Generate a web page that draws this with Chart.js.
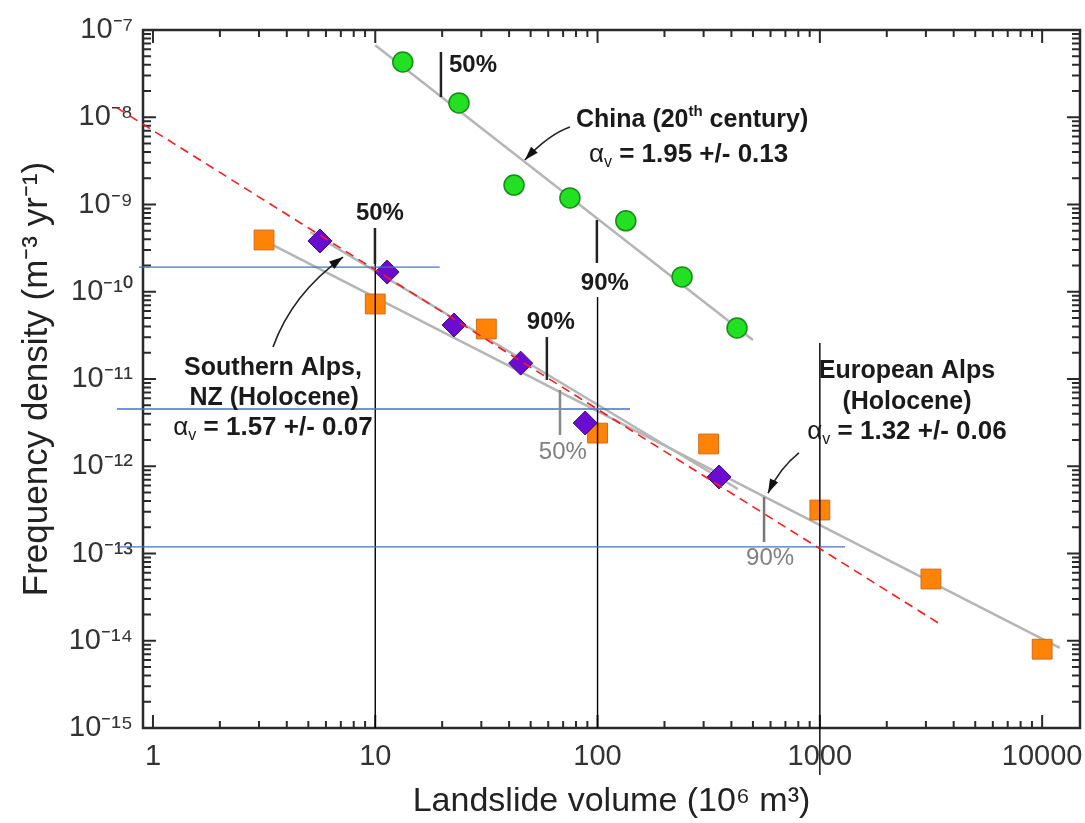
<!DOCTYPE html>
<html>
<head>
<meta charset="utf-8">
<script src="https://cdn.jsdelivr.net/npm/chart.js@4.4.1/dist/chart.umd.min.js"></script>
<style>
  html, body { margin: 0; padding: 0; background: #fff; }
  #wrap { width: 1085px; height: 823px; }
</style>
</head>
<body>
<div id="wrap"><canvas id="chart" width="1085" height="823"></canvas></div>
<script>
// values: volume in 10^6 m^3, frequency density in m^-3 yr^-1
const chinaVol  = [13.3, 23.8, 42.1, 75.1, 134, 240, 424];
const chinaFreq = [4.3e-8, 1.46e-8, 1.67e-9, 1.19e-9, 6.5e-10, 1.48e-10, 3.84e-11];

const euroVol  = [3.16, 10, 31.6, 100, 316, 1000, 3160, 10000];
const euroFreq = [3.92e-10, 7.24e-11, 3.74e-11, 2.40e-12, 1.80e-12, 3.15e-13, 5.1e-14, 8.0e-15];

const nzVol  = [5.64, 11.3, 22.6, 45.1, 88, 352];
const nzFreq = [3.82e-10, 1.68e-10, 4.16e-11, 1.52e-11, 3.13e-12, 7.53e-13];

// fitted power laws (grey lines), end points
const chinaFitVol = [10, 500];
const chinaFitFreq = [6.7e-8, 2.8e-11];
const nzFitVol = [5.09, 428];
const nzFitFreq = [4.84e-10, 5.48e-13];
const euroFitVol = [3.2, 12000];
const euroFitFreq = [3.8e-10, 8.3e-15];

// red dashed reference line
const redVol = [0.689, 3580];
const redFreq = [1.28e-8, 1.48e-14];

// blue horizontal guides
const blueFreq = [1.92e-10, 4.53e-12, 1.19e-13];
const blueFrom = [0.865, 0.689, 0.689];
const blueTo   = [19.5, 140, 1297];

// black vertical guides
const blackVol = [10, 100, 1000];
const blackTop = [2.19e-10, 8.7e-11, 2.59e-11];
const blackBottom = [1e-15, 1e-15, 2.9e-16];

const xTicks = [1, 10, 100, 1000, 10000];
const yTicks = [1e-15, 1e-14, 1e-13, 1e-12, 1e-11, 1e-10, 1e-9, 1e-8, 1e-7];

const FONT = '"Liberation Sans", Arial, sans-serif';
const SUP = {'-': '\u207B', '0': '\u2070', '1': '\u00B9', '2': '\u00B2', '3': '\u00B3',
  '4': '\u2074', '5': '\u2075', '6': '\u2076', '7': '\u2077', '8': '\u2078', '9': '\u2079'};
const sup = s => String(s).split('').map(c => SUP[c] || c).join('');

const pts = (xs, ys) => xs.map((v, i) => ({x: v, y: ys[i]}));

// annotation texts, placed in log10 units of the axes
const alpha = (rest) => [{t: '\u03B1'}, {t: 'v', sub: true}, {t: rest, b: true}];
const notes = [
  {segs: [{t: '50%', b: true}], lx: 1.3315, ly: -7.401, align: 'left', size: 24},
  {segs: [{t: 'China (20', b: true}, {t: 'th', b: true, sup: true}, {t: ' century)', b: true}], lx: 1.903, ly: -8.03, align: 'left', size: 25},
  {segs: alpha(' = 1.95 +/- 0.13'), lx: 1.961, ly: -8.433, align: 'left', size: 26},
  {segs: [{t: '50%', b: true}], lx: 1.021, ly: -9.097, align: 'center', size: 24},
  {segs: [{t: '90%', b: true}], lx: 2.033, ly: -9.900, align: 'center', size: 24},
  {segs: [{t: '90%', b: true}], lx: 1.790, ly: -10.347, align: 'center', size: 24},
  {segs: [{t: 'Southern Alps,', b: true}], lx: 0.540, ly: -10.874, align: 'center', size: 25},
  {segs: [{t: 'NZ (Holocene)', b: true}], lx: 0.545, ly: -11.218, align: 'center', size: 25},
  {segs: alpha(' = 1.57 +/- 0.07'), lx: 0.540, ly: -11.562, align: 'center', size: 26},
  {segs: [{t: '50%'}], lx: 1.844, ly: -11.837, align: 'center', size: 24, color: '#808080'},
  {segs: [{t: 'European Alps', b: true}], lx: 3.392, ly: -10.908, align: 'center', size: 25},
  {segs: [{t: '(Holocene)', b: true}], lx: 3.392, ly: -11.264, align: 'center', size: 25},
  {segs: alpha(' = 1.32 +/- 0.06'), lx: 3.392, ly: -11.607, align: 'center', size: 26},
  {segs: [{t: '90%'}], lx: 2.776, ly: -13.052, align: 'center', size: 24, color: '#808080'}
];
// short percentile markers on the fits
const marks = [
  {lx: 1.2955, ly1: -7.252, ly2: -7.768, color: '#222'},
  {lx: 0.9987, ly1: -9.269, ly2: -9.682, color: '#222'},
  {lx: 1.997, ly1: -9.178, ly2: -9.670, color: '#222'},
  {lx: 1.772, ly1: -10.519, ly2: -11.011, color: '#222'},
  {lx: 1.831, ly1: -11.126, ly2: -11.642, color: '#888'},
  {lx: 2.749, ly1: -12.352, ly2: -12.868, color: '#777'}
];
const arrows = [
  {from: [1.876, -8.112], ctrl: [1.779, -8.198], to: [1.673, -8.490]},
  {from: [0.540, -10.633], ctrl: [0.625, -10.026], to: [0.855, -9.602]},
  {from: [2.906, -11.848], ctrl: [2.8205, -12.020], to: [2.767, -12.307]}
];

function drawRich(ctx, segs, px, py, align, size, color) {
  let w = 0;
  const parts = segs.map(s => {
    const fs = (s.sub || s.sup) ? Math.round(size * 0.6) : size;
    const font = (s.b ? 'bold ' : '') + fs + 'px ' + FONT;
    ctx.font = font;
    const sw = ctx.measureText(s.t).width;
    w += sw;
    return {s, font, sw, dy: s.sup ? -size * 0.32 : (s.sub ? size * 0.3 : 0)};
  });
  let cx = align === 'center' ? px - w / 2 : (align === 'right' ? px - w : px);
  ctx.textAlign = 'left';
  ctx.textBaseline = 'middle';
  ctx.fillStyle = color;
  parts.forEach(p => {
    ctx.font = p.font;
    ctx.fillText(p.s.t, cx, py + p.dy);
    cx += p.sw;
  });
}

const frame = {
  id: 'frame',
  beforeDatasetsDraw(chart) {
    const {ctx, chartArea: a, scales: {x, y}} = chart;
    ctx.save();
    ctx.strokeStyle = '#2a2a2a';
    ctx.lineWidth = 2;
    // inward ticks on all four sides
    for (let d = -1; d <= 4; d++) {
      for (let m = 1; m <= 9; m++) {
        const v = m * Math.pow(10, d);
        if (v < x.min || v > x.max) continue;
        const p = x.getPixelForValue(v);
        const len = m === 1 ? 13 : 7;
        ctx.beginPath();
        ctx.moveTo(p, a.bottom); ctx.lineTo(p, a.bottom - len);
        ctx.moveTo(p, a.top); ctx.lineTo(p, a.top + len);
        ctx.stroke();
      }
    }
    for (let d = -15; d <= -7; d++) {
      for (let m = 1; m <= 9; m++) {
        const v = m * Math.pow(10, d);
        if (v < y.min * 0.999 || v > y.max * 1.001) continue;
        const p = y.getPixelForValue(v);
        const len = m === 1 ? 13 : 8;
        ctx.beginPath();
        ctx.moveTo(a.left, p); ctx.lineTo(a.left + len, p);
        ctx.moveTo(a.right, p); ctx.lineTo(a.right - len, p);
        ctx.stroke();
      }
    }
    ctx.lineWidth = 2.5;
    ctx.strokeRect(a.left, a.top, a.right - a.left, a.bottom - a.top);
    ctx.restore();
  }
};

const annotate = {
  id: 'annotate',
  afterDatasetsDraw(chart) {
    const {ctx, scales: {x, y}} = chart;
    const X = lx => x.getPixelForValue(Math.pow(10, lx));
    const Y = ly => y.getPixelForValue(Math.pow(10, ly));
    ctx.save();
    marks.forEach(m => {
      ctx.strokeStyle = m.color;
      ctx.lineWidth = 2.5;
      ctx.beginPath();
      ctx.moveTo(X(m.lx), Y(m.ly1));
      ctx.lineTo(X(m.lx), Y(m.ly2));
      ctx.stroke();
    });
    arrows.forEach(ar => {
      const x0 = X(ar.from[0]), y0 = Y(ar.from[1]);
      const cx = X(ar.ctrl[0]), cy = Y(ar.ctrl[1]);
      const x1 = X(ar.to[0]), y1 = Y(ar.to[1]);
      ctx.strokeStyle = '#222';
      ctx.lineWidth = 1.6;
      ctx.beginPath();
      ctx.moveTo(x0, y0);
      ctx.quadraticCurveTo(cx, cy, x1, y1);
      ctx.stroke();
      const ang = Math.atan2(y1 - cy, x1 - cx);
      const L = 14, W = 4.5;
      ctx.fillStyle = '#111';
      ctx.beginPath();
      ctx.moveTo(x1, y1);
      ctx.lineTo(x1 - L * Math.cos(ang) + W * Math.sin(ang), y1 - L * Math.sin(ang) - W * Math.cos(ang));
      ctx.lineTo(x1 - L * Math.cos(ang) - W * Math.sin(ang), y1 - L * Math.sin(ang) + W * Math.cos(ang));
      ctx.closePath();
      ctx.fill();
    });
    notes.forEach(n => drawRich(ctx, n.segs, X(n.lx), Y(n.ly), n.align, n.size, n.color || '#1a1a1a'));
    ctx.restore();
  }
};

const guide = (data, color, width, dash, order) => ({
  type: 'line', data, borderColor: color, borderWidth: width, borderDash: dash || [],
  pointRadius: 0, fill: false, clip: false, order
});

const datasets = [
  guide(pts(redVol, redFreq), '#ff1a1a', 1.6, [9, 6], 0),
  ...blueFreq.map((f, i) => guide([{x: blueFrom[i], y: f}, {x: blueTo[i], y: f}], '#4472c4', 1.3, null, 1)),
  ...blackVol.map((v, i) => guide([{x: v, y: blackTop[i]}, {x: v, y: blackBottom[i]}], '#000', 1.4, null, 1)),
  {
    type: 'scatter', label: 'China', data: pts(chinaVol, chinaFreq), order: 2,
    pointStyle: 'circle', pointRadius: 10, backgroundColor: '#22e022', borderColor: '#178a17', borderWidth: 1.5
  },
  {
    type: 'scatter', label: 'Southern Alps', data: pts(nzVol, nzFreq), order: 2,
    pointStyle: 'rectRot', pointRadius: 12, backgroundColor: '#6a0dd0', borderColor: '#3c0a82', borderWidth: 1
  },
  {
    type: 'scatter', label: 'European Alps', data: pts(euroVol, euroFreq), order: 2,
    pointStyle: 'rect', pointRadius: 14, backgroundColor: '#ff8307', borderColor: '#d06a1c', borderWidth: 1
  },
  guide(pts(chinaFitVol, chinaFitFreq), '#b5b5b5', 2.5, null, 3),
  guide(pts(nzFitVol, nzFitFreq), '#b5b5b5', 2.5, null, 3),
  guide(pts(euroFitVol, euroFitFreq), '#b5b5b5', 2.5, null, 3)
];

new Chart(document.getElementById('chart'), {
  type: 'scatter',
  data: {datasets},
  options: {
    responsive: false,
    animation: false,
    layout: {autoPadding: false, padding: {left: 0, right: 5, top: 30, bottom: 0}},
    plugins: {legend: {display: false}, tooltip: {enabled: false}},
    scales: {
      x: {
        type: 'logarithmic',
        min: 0.902, max: 14800,
        grid: {display: false, drawTicks: false},
        border: {display: false},
        afterBuildTicks: s => { s.ticks = xTicks.map(v => ({value: v})); },
        afterFit: s => { s.height = 95; s.paddingLeft = 0; s.paddingRight = 0; },
        ticks: {
          autoSkip: false, maxRotation: 0, padding: 12, color: '#333',
          font: {family: FONT, size: 29},
          callback: v => String(v)
        },
        title: {
          display: true, text: 'Landslide volume (10' + sup(6) + ' m' + sup(3) + ')',
          color: '#222', font: {family: FONT, size: 34}, padding: {top: 0, bottom: 1}
        }
      },
      y: {
        type: 'logarithmic',
        min: 1e-15, max: 1e-7,
        grid: {display: false, drawTicks: false},
        border: {display: false},
        afterBuildTicks: s => { s.ticks = yTicks.map(v => ({value: v})); },
        afterFit: s => { s.width = 143; s.paddingTop = 0; s.paddingBottom = 0; },
        ticks: {
          autoSkip: false, padding: 10, color: '#333',
          font: {family: FONT, size: 29},
          callback: v => '10' + sup(Math.round(Math.log10(v)))
        },
        title: {
          display: true, text: 'Frequency density (m' + sup(-3) + ' yr' + sup(-1) + ')',
          color: '#222', font: {family: FONT, size: 35}, padding: {top: 16, bottom: 0}
        }
      }
    }
  },
  plugins: [frame, annotate]
});
</script>
</body>
</html>
